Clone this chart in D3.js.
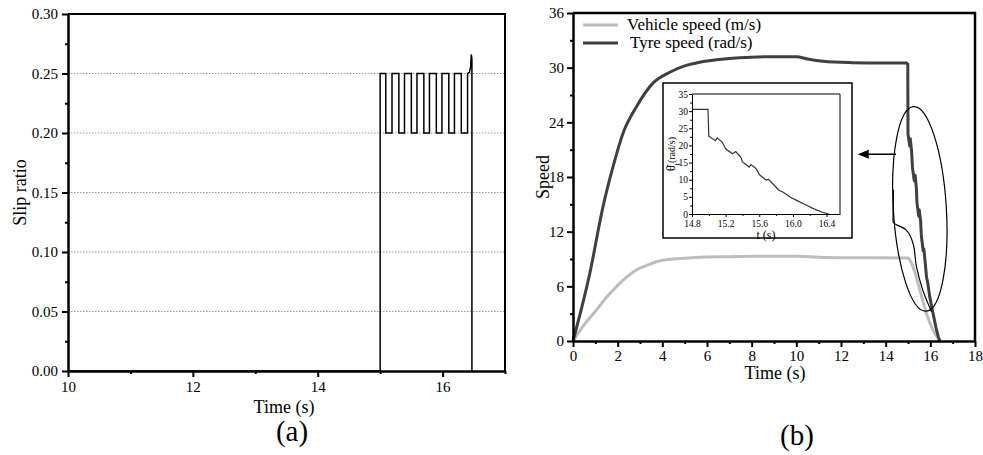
<!DOCTYPE html>
<html>
<head>
<meta charset="utf-8">
<script src="https://cdn.jsdelivr.net/npm/d3@7"></script>
<style>
  body { margin: 0; background: #fff; }
</style>
</head>
<body>
<svg id="chart" width="983" height="455"></svg>
<script>
const FONT = "'Liberation Serif', 'Times New Roman', Times, 'DejaVu Serif', serif";

// (a) slip ratio
const slipTime = [10, 15.0, 15.0, 15.09, 15.09, 15.19, 15.19, 15.30, 15.30, 15.39, 15.39, 15.50, 15.50, 15.59, 15.59,
  15.70, 15.70, 15.79, 15.79, 15.90, 15.90, 15.99, 15.99, 16.10, 16.10, 16.19, 16.19, 16.30, 16.30, 16.40, 16.40,
  16.43, 16.45, 16.46, 16.47, 16.47];
const slipRatio = [0, 0, 0.25, 0.25, 0.20, 0.20, 0.25, 0.25, 0.20, 0.20, 0.25, 0.25, 0.20, 0.20, 0.25,
  0.25, 0.20, 0.20, 0.25, 0.25, 0.20, 0.20, 0.25, 0.25, 0.20, 0.20, 0.25, 0.25, 0.20, 0.20, 0.25,
  0.251, 0.256, 0.266, 0.262, 0];
const slipXTicks = [10, 12, 14, 16];
const slipYTicks = [0, 0.05, 0.10, 0.15, 0.20, 0.25, 0.30];

// (b) speeds
const vehicleTime = [0, 0.5, 1.05, 1.5, 1.94, 2.4, 2.84, 3.3, 3.73, 4.3, 4.78, 5.67, 7, 8, 10, 11, 12, 15.0,
  15.23, 15.53, 15.83, 16.12, 16.42];
const vehicleSpeed = [0, 1.8, 3.4, 4.8, 5.95, 7.0, 7.8, 8.3, 8.7, 8.95, 9.05, 9.2, 9.25, 9.3, 9.3, 9.2, 9.15, 9.1,
  8.1, 5.6, 3.0, 1.2, 0];
const tyreTime = [0, 0.75, 1.34, 1.79, 2.24, 2.84, 3.58, 4.33, 5.0, 5.67, 7, 8, 9, 10, 10.5, 11.2, 12.5, 14, 14.99,
  15.0, 15.08, 15.1, 15.16, 15.2, 15.28, 15.32, 15.38, 15.4, 15.48, 15.5, 15.56, 15.6, 15.68, 15.71, 15.77,
  15.83, 15.89, 15.97, 16.05, 16.15, 16.25, 16.35, 16.43];
const tyreSpeed = [0, 7.4, 14.7, 19.1, 22.8, 25.7, 28.3, 29.5, 30.2, 30.6, 31.0, 31.15, 31.2, 31.2, 30.95, 30.7, 30.55, 30.5, 30.5,
  22.7, 21.4, 22.2, 20.9, 19.0, 17.6, 18.2, 16.6, 15.2, 13.7, 14.4, 13.3, 11.5, 9.9, 10.1, 8.6,
  7.0, 6.3, 4.9, 3.9, 2.7, 1.5, 0.5, 0];
const speedXTicks = [0, 2, 4, 6, 8, 10, 12, 14, 16, 18];
const speedYTicks = [0, 6, 12, 18, 24, 30, 36];
const insetXTicks = [14.8, 15.2, 15.6, 16.0, 16.4];
const insetYTicks = [0, 5, 10, 15, 20, 25, 30, 35];

const svg = d3.select('#chart').attr('font-family', FONT);

function drawAxes(g, x, y, o) {
  // minor ticks first
  g.append('g').attr('transform', `translate(0,${y.range()[0]})`)
    .call(d3.axisBottom(x).tickValues(o.xMinor).tickSize(o.minor).tickFormat(''))
    .call(s => s.select('.domain').remove())
    .selectAll('line').attr('stroke-width', o.tw);
  g.append('g').attr('transform', `translate(${x.range()[0]},0)`)
    .call(d3.axisLeft(y).tickValues(o.yMinor).tickSize(o.minor).tickFormat(''))
    .call(s => s.select('.domain').remove())
    .selectAll('line').attr('stroke-width', o.tw);

  const xa = g.append('g').attr('transform', `translate(0,${y.range()[0]})`)
    .call(d3.axisBottom(x).tickValues(o.xTicks).tickSize(o.major).tickSizeOuter(0).tickPadding(o.xpad || o.pad).tickFormat(o.xFmt))
    .attr('font-family', FONT).attr('font-size', o.fs);
  xa.select('.domain').attr('stroke-width', o.aw);
  xa.selectAll('line').attr('stroke-width', o.tw);

  const ya = g.append('g').attr('transform', `translate(${x.range()[0]},0)`)
    .call(d3.axisLeft(y).tickValues(o.yTicks).tickSize(o.major).tickSizeOuter(0).tickPadding(o.pad).tickFormat(o.yFmt))
    .attr('font-family', FONT).attr('font-size', o.fs);
  ya.select('.domain').attr('stroke-width', o.aw);
  ya.selectAll('line').attr('stroke-width', o.tw);

  // top and right frame
  g.append('path')
    .attr('d', `M${x.range()[0]},${y.range()[1]}H${x.range()[1]}V${y.range()[0]}`)
    .attr('fill', 'none').attr('stroke', '#000').attr('stroke-width', o.bw);
}

// ---------- (a) ----------
const xA = d3.scaleLinear().domain([10, 17]).range([68, 505]);
const yA = d3.scaleLinear().domain([0, 0.30]).range([371, 14]);
const gA = svg.append('g');

gA.selectAll('.grid').data(slipYTicks.filter(d => d > 0 && d < 0.3)).enter()
  .append('line')
  .attr('x1', xA(10)).attr('x2', xA(17))
  .attr('y1', d => yA(d)).attr('y2', d => yA(d))
  .attr('stroke', '#999').attr('stroke-width', 1).attr('stroke-dasharray', '1.5,1.5');

const slipPts = slipTime.map((t, i) => [t, slipRatio[i]]);
gA.append('path').datum(slipPts)
  .attr('fill', 'none').attr('stroke', '#000').attr('stroke-width', 1.5)
  .attr('d', d3.line().x(d => xA(d[0])).y(d => yA(d[1])));

drawAxes(gA, xA, yA, {
  xTicks: slipXTicks, yTicks: slipYTicks, xMinor: [11, 13, 15, 17],
  yMinor: [0.025, 0.075, 0.125, 0.175, 0.225, 0.275],
  major: 6, minor: 3, pad: 4, fs: 15, aw: 2.5, tw: 2, bw: 2,
  xFmt: d3.format('d'), yFmt: d3.format('.2f')
});

gA.append('text').attr('transform', `translate(26,${(14 + 371) / 2}) rotate(-90)`)
  .attr('text-anchor', 'middle').attr('font-size', 18).text('Slip ratio');
gA.append('text').attr('x', 284).attr('y', 413).attr('text-anchor', 'middle')
  .attr('font-size', 18).text('Time (s)');
gA.append('text').attr('x', 292).attr('y', 441).attr('text-anchor', 'middle')
  .attr('font-size', 29).text('(a)');

// ---------- (b) ----------
const xB = d3.scaleLinear().domain([0, 18]).range([573, 975]);
const yB = d3.scaleLinear().domain([0, 36]).range([341, 13]);
const gB = svg.append('g');

const line = (x, y) => d3.line().x(d => x(d[0])).y(d => y(d[1]));
const vehPts = vehicleTime.map((t, i) => [t, vehicleSpeed[i]]);
const tyrePts = tyreTime.map((t, i) => [t, tyreSpeed[i]]);

gB.append('path').datum(vehPts)
  .attr('fill', 'none').attr('stroke', '#bdbdbd').attr('stroke-width', 3)
  .attr('d', line(xB, yB).curve(d3.curveMonotoneX));
// smooth run-up, then the measured braking steps as straight segments
gB.append('path').datum(tyrePts.filter(d => d[0] < 15))
  .attr('fill', 'none').attr('stroke', '#404040').attr('stroke-width', 3)
  .attr('d', line(xB, yB).curve(d3.curveMonotoneX));
gB.append('path').datum(tyrePts.filter(d => d[0] >= 14.99))
  .attr('fill', 'none').attr('stroke', '#404040').attr('stroke-width', 3)
  .attr('stroke-linejoin', 'round')
  .attr('d', line(xB, yB));

drawAxes(gB, xB, yB, {
  xTicks: speedXTicks, yTicks: speedYTicks, xMinor: d3.range(1, 18, 2),
  yMinor: [3, 9, 15, 21, 27, 33],
  major: 6, minor: 3, pad: 3, fs: 15, aw: 2.5, tw: 2, bw: 2.5,
  xFmt: d3.format('d'), yFmt: d3.format('d')
});

gB.append('text').attr('transform', `translate(549,${(13 + 341) / 2}) rotate(-90)`)
  .attr('text-anchor', 'middle').attr('font-size', 18).text('Speed');
gB.append('text').attr('x', 775).attr('y', 379).attr('text-anchor', 'middle')
  .attr('font-size', 18).text('Time (s)');
gB.append('text').attr('x', 797).attr('y', 445).attr('text-anchor', 'middle')
  .attr('font-size', 29).text('(b)');

// legend
const legend = [
  { name: 'Vehicle speed (m/s)', color: '#bdbdbd', y: 25, tx: 627 },
  { name: 'Tyre speed (rad/s)', color: '#404040', y: 43, tx: 630 }
];
legend.forEach(l => {
  gB.append('line').attr('x1', 583).attr('x2', 618).attr('y1', l.y).attr('y2', l.y)
    .attr('stroke', l.color).attr('stroke-width', 3);
  gB.append('text').attr('x', l.tx).attr('y', l.y + 5).attr('font-size', 17).text(l.name);
});

// callout round the braking part
gB.append('ellipse')
  .attr('cx', xB(15.53)).attr('cy', yB(14.5)).attr('rx', 26.5).attr('ry', 102.5)
  .attr('transform', `rotate(-3.5,${xB(15.53)},${yB(14.5)})`)
  .attr('fill', 'none').attr('stroke', '#000').attr('stroke-width', 1.2);
const ex = xB(14.33);
const tail = [[ex + 0.5, yB(16.6)], [ex, yB(13.1)], [ex + 13, yB(12.2)], [ex + 20, yB(10.7)], [ex + 23.5, yB(8.1)],
  [ex + 30, yB(5.5)], [ex + 38.5, yB(3.2)]];
gB.append('path').datum(tail)
  .attr('d', d3.line().curve(d3.curveMonotoneY))
  .attr('fill', 'none').attr('stroke', '#000').attr('stroke-width', 1.2);
const ay = yB(20.5);
gB.append('line').attr('x1', xB(12.92)).attr('x2', ex + 3).attr('y1', ay).attr('y2', ay)
  .attr('stroke', '#000').attr('stroke-width', 1.5);
gB.append('path')
  .attr('d', `M${xB(12.75)},${ay}l11,-4.5v9z`).attr('fill', '#000');

// ---------- inset ----------
const gI = svg.append('g');
gI.append('rect').attr('x', 663).attr('y', 83).attr('width', 189).attr('height', 155)
  .attr('fill', '#fff').attr('stroke', '#000').attr('stroke-width', 1.5);
const xI = d3.scaleLinear().domain([14.8, 16.56]).range([692, 840]);
const yI = d3.scaleLinear().domain([0, 35]).range([214, 94]);

gI.append('clipPath').attr('id', 'insetClip').append('rect')
  .attr('x', 692).attr('y', 94).attr('width', 148).attr('height', 120);
gI.append('path').datum(tyrePts.filter(d => d[0] >= 14))
  .attr('clip-path', 'url(#insetClip)')
  .attr('fill', 'none').attr('stroke', '#333').attr('stroke-width', 1.2)
  .attr('d', line(xI, yI));

drawAxes(gI, xI, yI, {
  xTicks: insetXTicks, yTicks: insetYTicks, xMinor: [15.0, 15.4, 15.8, 16.2],
  yMinor: [2.5, 7.5, 12.5, 17.5, 22.5, 27.5, 32.5],
  major: 3, minor: 2, pad: 1, xpad: 3, fs: 9.5, aw: 1, tw: 1, bw: 1,
  xFmt: d3.format('.1f'), yFmt: d3.format('d')
});

gI.append('text').attr('x', 766).attr('y', 238.5).attr('text-anchor', 'middle')
  .attr('font-size', 12).text('t (s)');
const yl = gI.append('text').attr('transform', `translate(675,${(94 + 214) / 2}) rotate(-90)`)
  .attr('text-anchor', 'middle').attr('font-size', 10);
yl.append('tspan').attr('font-size', 12).text('θ\u0307');
yl.append('tspan').attr('baseline-shift', 'sub').attr('font-size', 8).text('t');
yl.append('tspan').text('(rad/s)');
</script>
</body>
</html>
